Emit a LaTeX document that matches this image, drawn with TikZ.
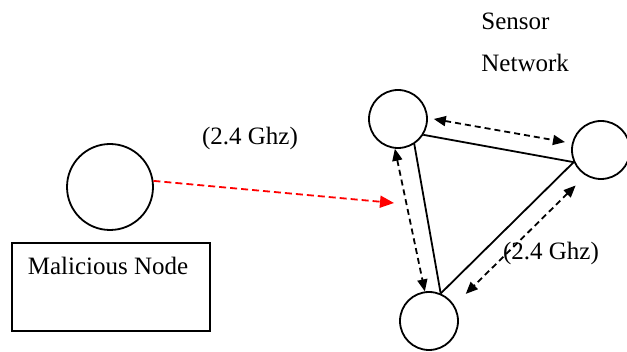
\documentclass[tikz,border=0pt]{standalone}
\usepackage{fontspec}
\setmainfont{Liberation Serif}
\usetikzlibrary{arrows.meta}
\tikzset{
  sensor/.style={draw, circle, line width=0.9pt, minimum size=29pt, inner sep=0pt},
  radio/.style={line width=0.9pt, dash pattern=on 3pt off 2pt, {Triangle[length=6pt,width=5pt]}-{Triangle[length=6pt,width=5pt]}},
  lbl/.style={font=\fontsize{12.5}{15}\selectfont, inner sep=0pt}
}
\begin{document}
\begin{tikzpicture}[x=0.5pt, y=-0.5pt]
   \useasboundingbox (0,0) rectangle (627,352);
   % attacker
   \node[draw, circle, line width=0.9pt, minimum size=43pt, inner sep=0pt] (mal) at (110,187) {};
   \node[draw, line width=0.9pt, minimum width=99pt, minimum height=44pt, anchor=north west] (box) at (11,242) {};
   \node[lbl] (malname) at (108,266) {Malicious Node};
   \node[lbl] (freqa) at (250,138) {(2.4 Ghz)};
   \coordinate (hit) at (394,203);
   \draw[red, line width=0.9pt, dash pattern=on 3.5pt off 2pt, -{Triangle[length=7pt,width=6pt]}] (mal.8) -- (hit);
   % sensor network
   \node[lbl, anchor=west] (sens) at (481,21) {Sensor};
   \node[lbl, anchor=west] (netw) at (481,63) {Network};
   \node[sensor] (s1) at (398,119) {};
   \node[sensor] (s2) at (601,150) {};
   \node[sensor] (s3) at (429,321) {};
   \draw[line width=0.9pt] (s1.-32) -- (s2.-156);
   \draw[line width=0.9pt] (s1.-57) -- (s3.67);
   \draw[line width=0.9pt] (s2.-156) -- (s3.67);
   \draw[radio, shorten <=3pt, shorten >=3.5pt] (s1.2) -- (s2.167);
   \draw[radio] (s1.-96) -- (s3.98);
   \draw[radio, shorten <=7pt, shorten >=8pt] (s2.-121) -- (s3.32);
   \node[lbl] (freqb) at (551,253) {(2.4 Ghz)};
\end{tikzpicture}
\end{document}
